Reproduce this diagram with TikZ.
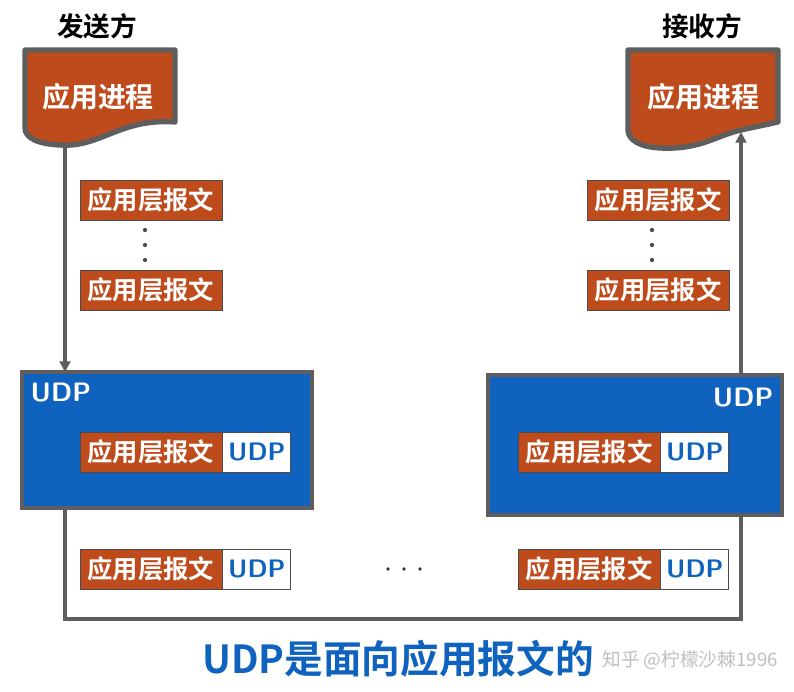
\documentclass[tikz,border=0pt]{standalone}
\usepackage{fontspec}
\setmainfont{Noto Sans CJK SC}[BoldFont={* Bold}]
\newfontfamily\cjkb{Noto Sans CJK SC Bold}
\usetikzlibrary{arrows.meta}
\definecolor{rust}{HTML}{BE4B1B}
\definecolor{ublue}{HTML}{0F63BE}
\definecolor{lgray}{HTML}{5E5E5E}
\tikzset{
  msg/.style={fill=rust,draw=black!70,line width=0.6pt,minimum width=106.5pt,minimum height=30pt,inner sep=0pt,text=white,font=\cjkb\fontsize{19}{19}\selectfont},
  hdr/.style={fill=white,draw=black!70,line width=0.6pt,minimum width=51pt,minimum height=30pt,inner sep=0pt,text=ublue,font=\sffamily\bfseries\fontsize{19}{19}\selectfont},
  udpbox/.style={fill=ublue,draw=lgray,line width=3pt},
  conn/.style={draw=lgray,line width=2.5pt},
  doc/.style={fill=rust,draw=lgray,line width=4pt,line join=round},
}
\begin{document}
\begin{tikzpicture}[x=0.75pt,y=-0.75pt]
\useasboundingbox (0,0) rectangle (794,692);
% headings
\node[font=\cjkb\fontsize{20}{20}\selectfont] (hs) at (97,26) {发送方};
\node[font=\cjkb\fontsize{20}{20}\selectfont] (hr) at (702,26) {接收方};
% documents
\path[doc] (25,50) -- (175,50) -- (175,122) .. controls (120,118) and (100,148) .. (60,145) .. controls (38,144) and (25,138) .. (25,128) -- cycle;
\coordinate (dl) at (65,144);
\node[text=white,font=\cjkb\fontsize{21}{21}\selectfont] (pl) at (98,97) {应用进程};
\path[doc] (628,50) -- (778,50) -- (778,122) .. controls (760,126) and (750,128) .. (741,130) .. controls (715,136) and (700,150) .. (660,148) .. controls (640,147) and (628,140) .. (628,130) -- cycle;
\coordinate (dr) at (741,132);
\node[text=white,font=\cjkb\fontsize{21}{21}\selectfont] (pr) at (703,97) {应用进程};
% UDP boxes
\path[udpbox] (22,372) rectangle (312,508);
\coordinate (ult) at (65,372); \coordinate (ulb) at (65,508);
\node[text=white,font=\sffamily\bfseries\fontsize{20}{20}\selectfont,anchor=west] (ul) at (26,393) {UDP};
\path[udpbox] (488,375) rectangle (782,515);
\coordinate (urt) at (741,375); \coordinate (urb) at (741,515);
\node[text=white,font=\sffamily\bfseries\fontsize{20}{20}\selectfont,anchor=east] (ur) at (778,398) {UDP};
% connectors
\draw[conn,-{Triangle[length=8pt,width=8pt]}] (dl) -- (ult);
\draw[conn] (ulb) -- (65,619) -- (741,619) -- (urb);
\draw[conn,-{Triangle[length=8pt,width=8pt]}] (urt) -- (dr);
% message stacks
\node[msg] (m1) at (151,200) {应用层报文};
\node[msg] (m2) at (151,290) {应用层报文};
\node[msg] (m3) at (658,200) {应用层报文};
\node[msg] (m4) at (658,290) {应用层报文};
\foreach \y in {230,245,260}{\fill[black!70] (145,\y) circle (1.6pt); \fill[black!70] (652,\y) circle (1.6pt);}
% encapsulated
\node[msg] (e1) at (151,452) {应用层报文};
\node[hdr,anchor=west] (h1) at (e1.east) {UDP};
\node[msg] (e2) at (589,452) {应用层报文};
\node[hdr,anchor=west] (h2) at (e2.east) {UDP};
\node[msg] (e3) at (151,569) {应用层报文};
\node[hdr,anchor=west] (h3) at (e3.east) {UDP};
\node[msg] (e4) at (589,569) {应用层报文};
\node[hdr,anchor=west] (h4) at (e4.east) {UDP};
\foreach \x in {388,404,420}{\fill[black!80] (\x,569) circle (1.4pt);}
% title
\node[text=ublue,font=\cjkb\fontsize{29}{29}\selectfont] (t) at (398,659) {UDP是面向应用报文的};
\node[text=black!25,font=\fontsize{14}{14}\selectfont,anchor=east,inner sep=0pt] (w) at (778,660) {知乎 @柠檬沙棘1996};
\end{tikzpicture}
\end{document}
